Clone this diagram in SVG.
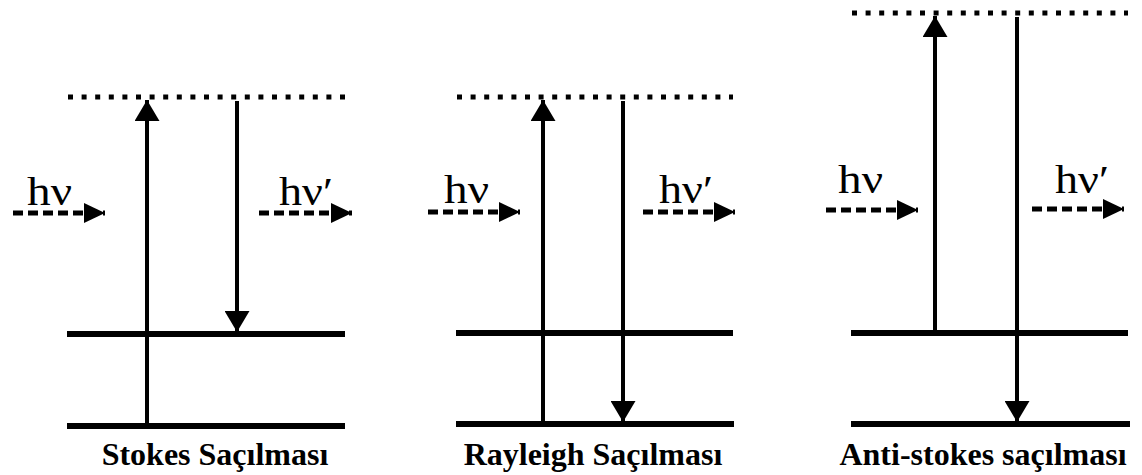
<svg xmlns="http://www.w3.org/2000/svg" width="1142" height="475" viewBox="0 0 1142 475">
<style>
.lvl{stroke:#000;stroke-width:6;fill:none}
.virt{stroke:#000;stroke-width:5;stroke-dasharray:5 8.6;fill:none}
.tr{stroke:#000;stroke-width:4;fill:none;marker-end:url(#vh)}
.ph{stroke:#000;stroke-width:5;stroke-dasharray:10 5;fill:none;marker-end:url(#hh)}
.hv{font-family:"Liberation Serif","DejaVu Serif",serif;font-size:41px;fill:#000}
.lab{font-family:"Liberation Serif",serif;font-size:32px;font-weight:bold;fill:#000;text-anchor:middle}
</style>
<defs>
<marker id="vh" viewBox="0 0 21 25" markerWidth="21" markerHeight="25" refX="21" refY="12.5" orient="auto" markerUnits="userSpaceOnUse"><path d="M0,0 L21,12.5 L0,25 z" fill="#000"/></marker>
<marker id="hh" viewBox="0 0 21 20" markerWidth="21" markerHeight="20" refX="21" refY="10" orient="auto" markerUnits="userSpaceOnUse"><path d="M0,0 L21,10 L0,20 z" fill="#000"/></marker>
</defs>
<rect width="1142" height="475" fill="#fff"/>
<g id="stokes">
<line class="virt" x1="68" y1="97" x2="345" y2="97"/>
<line class="lvl" x1="67" y1="334" x2="345" y2="334"/>
<line class="lvl" x1="67" y1="426" x2="345" y2="426"/>
<text class="hv" x="27" y="205" textLength="45" lengthAdjust="spacingAndGlyphs">hν</text>
<text class="hv" x="279" y="205" textLength="54" lengthAdjust="spacingAndGlyphs">hν′</text>
<text class="lab" x="215" y="465">Stokes Saçılması</text>
</g>
<g id="rayleigh">
<line class="virt" x1="457" y1="97" x2="733" y2="97"/>
<line class="lvl" x1="456" y1="333" x2="733" y2="333"/>
<line class="lvl" x1="456" y1="424" x2="734" y2="424"/>
<text class="hv" x="444" y="203" textLength="45" lengthAdjust="spacingAndGlyphs">hν</text>
<text class="hv" x="659" y="203" textLength="54" lengthAdjust="spacingAndGlyphs">hν′</text>
<text class="lab" x="593" y="465">Rayleigh Saçılması</text>
</g>
<g id="antistokes">
<line class="virt" x1="852" y1="13" x2="1128" y2="13"/>
<line class="lvl" x1="851" y1="333" x2="1128" y2="333"/>
<line class="lvl" x1="851" y1="424" x2="1130" y2="424"/>
<text class="hv" x="838" y="193" textLength="45" lengthAdjust="spacingAndGlyphs">hν</text>
<text class="hv" x="1055" y="193" textLength="54" lengthAdjust="spacingAndGlyphs">hν′</text>
<text class="lab" x="983" y="465">Anti-stokes saçılması</text>
</g>
<g id="connectors">
<line class="ph" x1="13" y1="213" x2="105" y2="213"/>
<line class="ph" x1="259" y1="213" x2="352" y2="213"/>
<line class="tr" x1="147" y1="426" x2="147" y2="100"/>
<line class="tr" x1="237" y1="101" x2="237" y2="332"/>
<line class="ph" x1="428" y1="212" x2="520" y2="212"/>
<line class="ph" x1="643" y1="212" x2="735" y2="212"/>
<line class="tr" x1="543" y1="424" x2="543" y2="100"/>
<line class="tr" x1="623" y1="101" x2="623" y2="422"/>
<line class="ph" x1="826" y1="210" x2="918" y2="210"/>
<line class="ph" x1="1032" y1="209" x2="1124" y2="209"/>
<line class="tr" x1="935" y1="333" x2="935" y2="16"/>
<line class="tr" x1="1017" y1="17" x2="1017" y2="422"/>
</g>
</svg>
